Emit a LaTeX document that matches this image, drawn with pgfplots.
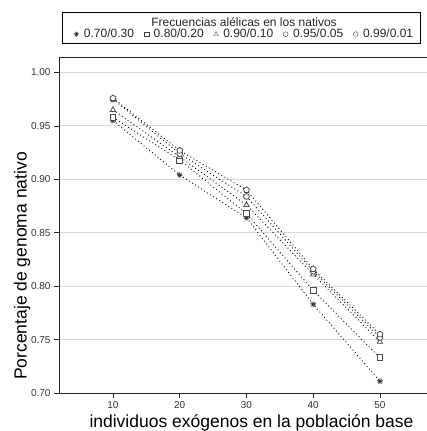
\documentclass[border=0pt]{standalone}
\usepackage{fontspec}
\setmainfont{Liberation Sans}
\usepackage{pgfplots}
\pgfplotsset{compat=1.18}
\usetikzlibrary{plotmarks}
\begin{document}
\begin{tikzpicture}
\begin{axis}[
  name=ax,
  at={(0,0)}, anchor=south west,
  scale only axis, width=385pt, height=336pt,
  xmin=1.91, xmax=59.6, ymin=0.70, ymax=1.0145,
  xtick={10,20,30,40,50},
  ytick={0.70,0.75,0.80,0.85,0.90,0.95,1.00},
  yticklabel style={/pgf/number format/.cd, fixed, fixed zerofill, precision=2},
  /pgf/number format/assume math mode=true,
  tick align=outside, tick pos=left, major tick length=5pt,
  tick style={black!85, line width=0.6pt},
  axis line style={black!85, line width=0.8pt},
  ymajorgrids, grid style={black!15, line width=0.9pt},
  tick label style={font=\fontsize{10}{11}\selectfont, text=black!80},
  xlabel={individuos exógenos en la población base},
  xlabel style={font=\fontsize{17.5}{19}\selectfont, at={(axis description cs:0.5,0)}, anchor=center, yshift=-30pt},
  legend columns=5,
  legend style={draw=none, fill=none, at={(0.482,1.068)}, anchor=center,
    font=\fontsize{12}{13}\selectfont, text=black!85,
    /tikz/every odd column/.append style={column sep=3pt},
    /tikz/every even column/.append style={column sep=8pt}},
  legend image code/.code={\draw[#1] plot coordinates {(0.15cm,0cm)};},
]
\addplot[black, line width=0.9pt, dash pattern=on 0.9pt off 2.7pt, mark=10-pointed star, mark size=3pt, mark options={solid, draw=black!80, fill=black!80, line width=0.5pt}, forget plot] coordinates {(10,0.955) (20,0.904) (30,0.864) (40,0.783) (50,0.711)};
\addplot[black, line width=0.9pt, dash pattern=on 0.9pt off 2.7pt, mark=square*, mark size=2.9pt, mark options={solid, draw=black!70, fill=white, line width=0.8pt}, forget plot] coordinates {(10,0.958) (20,0.918) (30,0.868) (40,0.796) (50,0.733)};
\addplot[black, line width=0.9pt, dash pattern=on 0.9pt off 2.7pt, mark=triangle*, mark size=3.1pt, mark options={solid, draw=black!70, fill=white, line width=0.8pt}, forget plot] coordinates {(10,0.965) (20,0.921) (30,0.876) (40,0.811) (50,0.748)};
\addplot[black, line width=0.9pt, dash pattern=on 0.9pt off 2.7pt, mark=*, mark size=2.9pt, mark options={solid, draw=black!70, fill=white, line width=0.8pt}, forget plot] coordinates {(10,0.975) (20,0.924) (30,0.884) (40,0.814) (50,0.752)};
\addplot[black, line width=0.9pt, dash pattern=on 0.9pt off 2.7pt, mark=pentagon*, mark size=3.1pt, mark options={solid, draw=black!70, fill=white, line width=0.8pt}, forget plot] coordinates {(10,0.976) (20,0.927) (30,0.890) (40,0.816) (50,0.755)};
\addlegendimage{only marks, mark=10-pointed star, mark size=2.6pt, mark options={draw=black!80, fill=black!80}}
\addlegendentry{0.70/0.30}
\addlegendimage{only marks, mark=square*, mark size=2.4pt, mark options={draw=black!75, fill=white}}
\addlegendentry{0.80/0.20}
\addlegendimage{only marks, mark=triangle*, mark size=2.6pt, mark options={draw=black!75, fill=white}}
\addlegendentry{0.90/0.10}
\addlegendimage{only marks, mark=*, mark size=2.4pt, mark options={draw=black!75, fill=white}}
\addlegendentry{0.95/0.05}
\addlegendimage{only marks, mark=pentagon*, mark size=2.6pt, mark options={draw=black!75, fill=white}}
\addlegendentry{0.99/0.01}
\end{axis}
\draw[black, line width=0.7pt] ([shift={(3pt,14pt)}]ax.north west) rectangle ([shift={(361pt,45pt)}]ax.north west);
\node[font=\fontsize{12}{13}\selectfont, text=black!85] at ([shift={(185pt,35pt)}]ax.north west) {Frecuencias alélicas en los nativos};
\node[font=\fontsize{17.5}{19}\selectfont, rotate=90] at ([shift={(-37pt,127pt)}]ax.south west) {Porcentaje de genoma nativo};
\pgfresetboundingbox
\path (-59pt,-38pt) rectangle (367pt,393pt);
\end{tikzpicture}
\end{document}
